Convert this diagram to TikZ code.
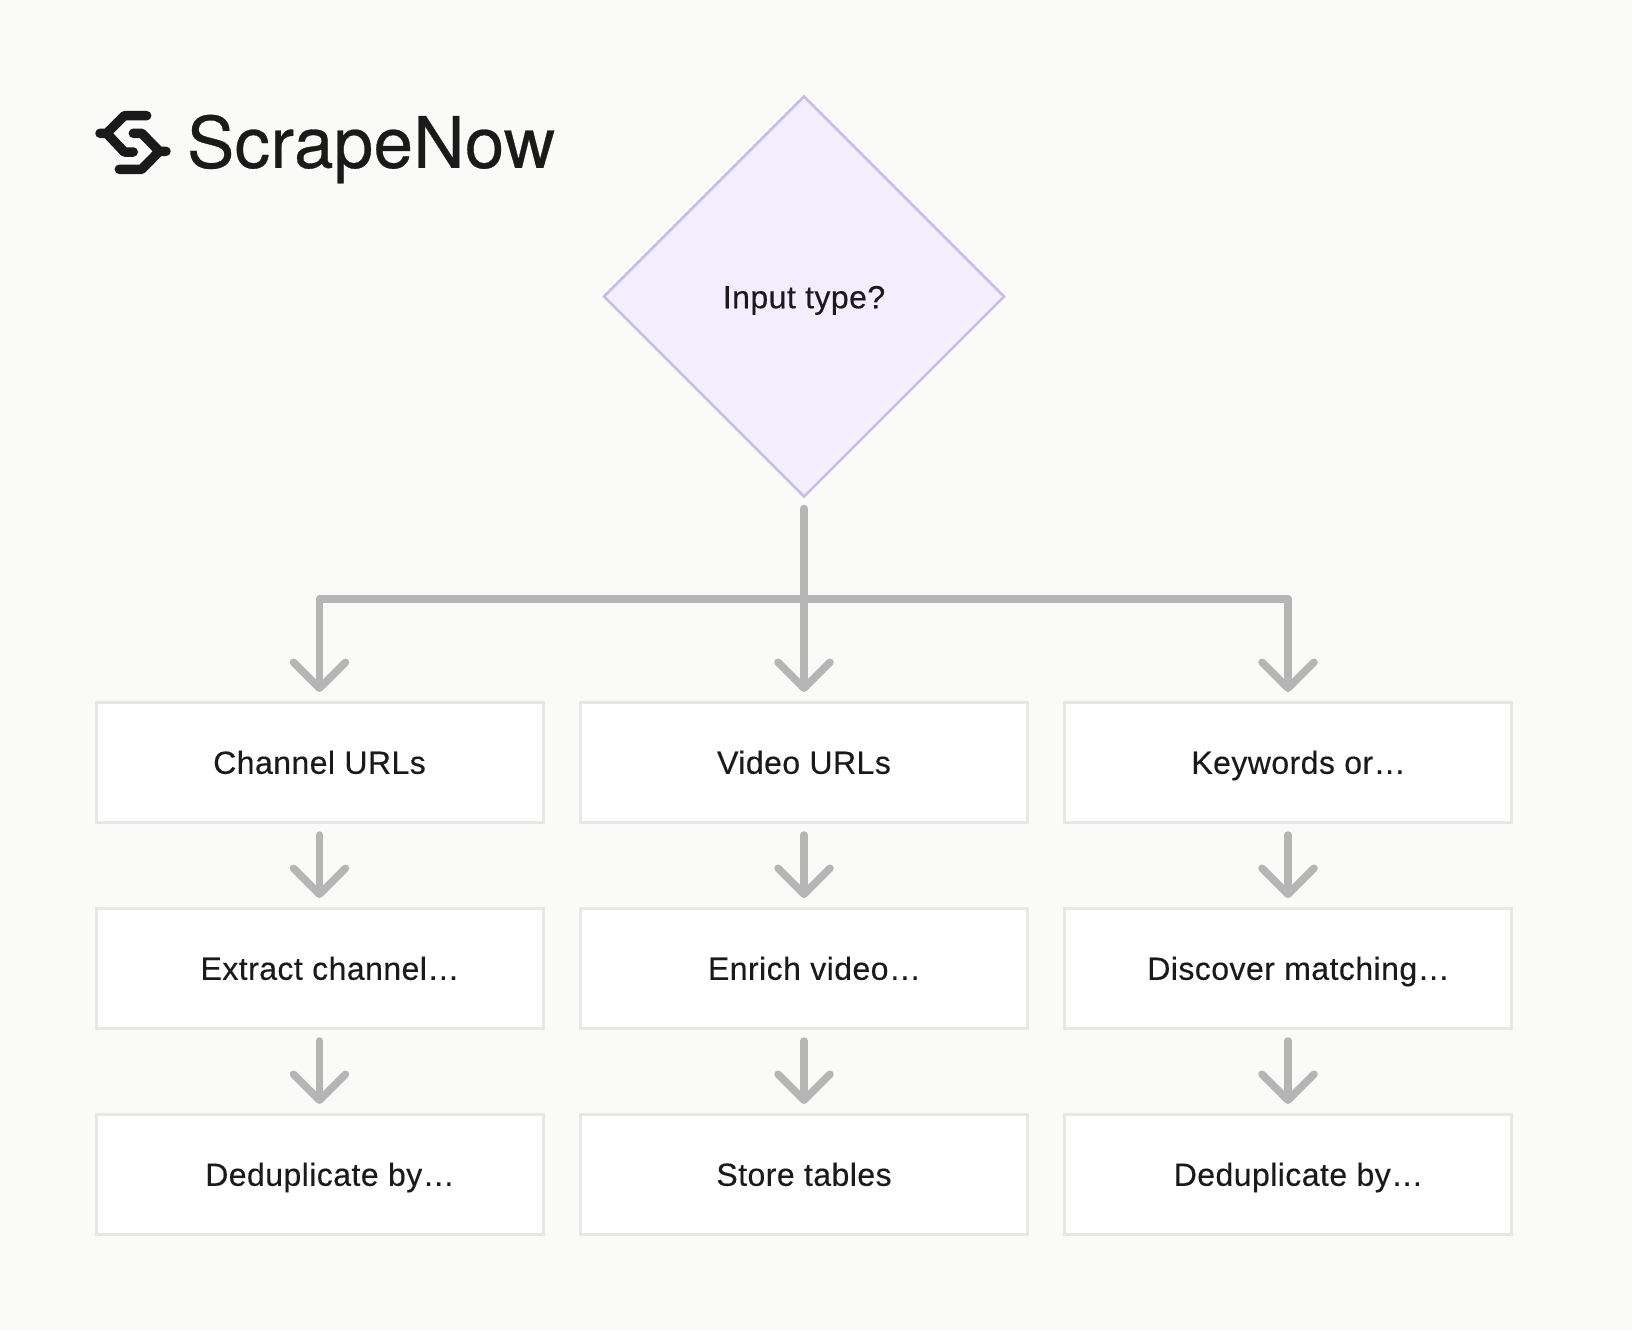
\documentclass[tikz,border=0pt]{standalone}
\usepackage{fontspec}
\usetikzlibrary{shapes.geometric,arrows.meta}
\setmainfont{Liberation Sans}[LetterSpace=1.4,FakeBold=0.3]
\newfontfamily\logofont{TeX Gyre Heros}[LetterSpace=0.4,FakeBold=0.4]
\definecolor{pagebg}{HTML}{FAFAF8}
\definecolor{ink}{HTML}{1A1A1A}
\definecolor{edge}{HTML}{B5B5B5}
\definecolor{boxline}{HTML}{E7E7E5}
\definecolor{dfill}{HTML}{F2EEFD}
\definecolor{dline}{HTML}{C9BFE6}
\newcommand{\clip}[1]{\hspace*{21pt}#1}
\tikzset{
  x=1pt,y=-1pt,
  lab/.style={font=\fontsize{32}{38}\selectfont,text=ink,text height=27pt,text depth=3.5pt,inner sep=0pt,outer sep=0pt,align=center},
  flowbox/.style={lab,draw=boxline,fill=white,line width=3pt,minimum width=447pt,minimum height=120pt},
  decide/.style={lab,shape=diamond,aspect=1,draw=dline,fill=dfill,line width=2.5pt,minimum width=400pt,minimum height=400pt},
  conn/.style={draw=edge,line width=7.5pt,line cap=round,line join=round,-{Straight Barb[length=26pt,width=52pt,line width=7.5pt,round]}},
  logoline/.style={draw=ink,line width=9.5pt,line cap=round,line join=round},
}
\begin{document}
\begin{tikzpicture}
\useasboundingbox[fill=pagebg] (0,0) rectangle (1632,1330);
% logo
\draw[logoline] (146.7,115.7) -- (124.3,115.7) -- (106.7,133.3) -- (100,133.3);
\draw[logoline] (106.7,133.3) -- (124.3,152) -- (133.3,152);
\draw[logoline] (133.3,133.3) -- (141.7,133.3) -- (159.3,151.3) -- (166,151.3);
\draw[logoline] (159.3,151.3) -- (141.7,169.3) -- (119.3,169.3);
\node[anchor=west,inner sep=0pt,outer sep=0pt,text=ink,font=\logofont\fontsize{71}{80}\selectfont] (brand) at (187,149) {ScrapeNow};
% decision
\node[decide] (d) at (804,296.5) {Input type?};
% boxes
\node[flowbox] (a1) at (319.5,762) {Channel URLs};
\node[flowbox] (b1) at (804,762) {Video URLs};
\node[flowbox] (c1) at (1288,762) {\clip{Keywords or…}};
\node[flowbox] (a2) at (319.5,968) {\clip{Extract channel…}};
\node[flowbox] (b2) at (804,968) {\clip{Enrich video…}};
\node[flowbox] (c2) at (1288,968) {\clip{Discover matching…}};
\node[flowbox] (a3) at (319.5,1174) {\clip{Deduplicate by…}};
\node[flowbox] (b3) at (804,1174) {Store tables};
\node[flowbox] (c3) at (1288,1174) {\clip{Deduplicate by…}};
% connectors
\coordinate (bus) at (804,599);
\draw[conn,shorten <=12pt,shorten >=10pt] (d.south) -- (b1.north);
\draw[conn,shorten >=10pt] (bus) -| (a1.north);
\draw[conn,shorten >=10pt] (bus) -| (c1.north);
\foreach \c in {a,b,c}{
  \draw[conn,shorten <=13pt,shorten >=10pt] (\c1.south) -- (\c2.north);
  \draw[conn,shorten <=13pt,shorten >=10pt] (\c2.south) -- (\c3.north);
}
\end{tikzpicture}
\end{document}
